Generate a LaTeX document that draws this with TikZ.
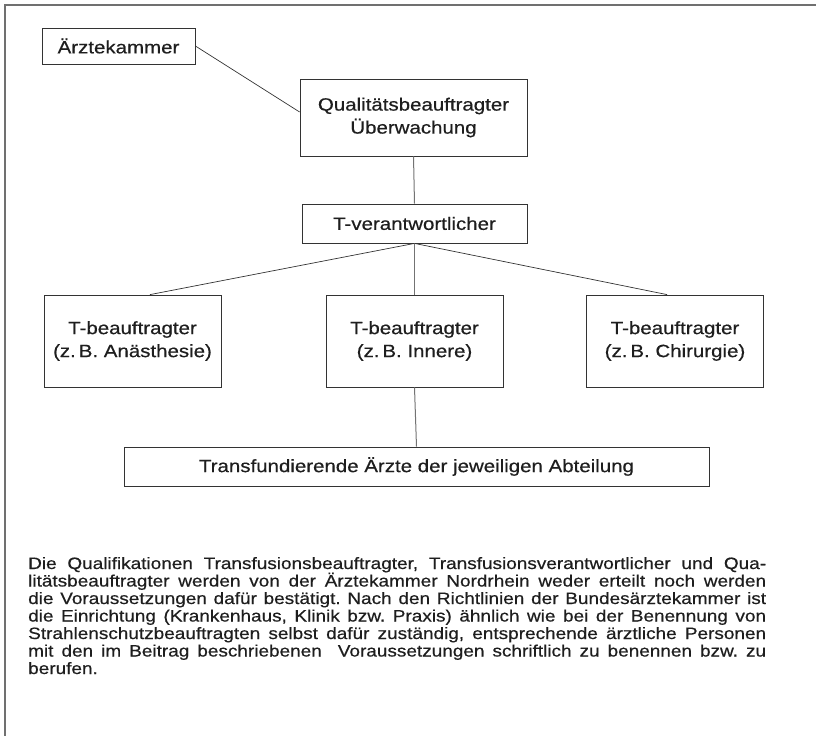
\documentclass[tikz,border=0pt]{standalone}
\usepackage{fontspec}
\setmainfont{Liberation Sans}
\newfontfamily\chartfont{Liberation Sans}[FakeStretch=1.15, FakeBold=0.5]
\usetikzlibrary{positioning}

\newcommand{\boxfont}{\chartfont\fontsize{17.8}{23}\selectfont}
\newcommand{\notefont}{\chartfont\fontsize{16.5}{17.5}\selectfont\frenchspacing}
\definecolor{inkgray}{HTML}{1E1E1E}
\definecolor{framegray}{HTML}{707070}

\tikzset{
  orgbox/.style={draw=black!80, line width=0.8pt, align=center, inner sep=0pt,
    text=inkgray, font=\boxfont},
  link/.style={draw=black!80, line width=0.7pt},
  stem/.style={draw=black!55, line width=1pt}
}

\begin{document}
\begin{tikzpicture}[x=1pt, y=-1pt]
  \useasboundingbox (0,0) rectangle (816,736);
  % frame, open at right and bottom
  \coordinate (ftop) at (816,5);
  \coordinate (fcorner) at (5,5);
  \coordinate (fbottom) at (5,736);
  \draw [framegray, line width=1.4pt] (ftop) -- (fcorner) -- (fbottom);

  % boxes
  \node [orgbox, minimum width=153pt, minimum height=36pt] (kammer) at (118.5,46) {Ärztekammer};
  \node [orgbox, minimum width=227pt, minimum height=77pt] (quali) at (413.5,117.5)
    {Qualitätsbeauftragter\\Überwachung};
  \node [orgbox, minimum width=225pt, minimum height=39pt] (tverant) at (414.5,223.5) {T-verantwortlicher};
  \node [orgbox, minimum width=177pt, minimum height=92pt] (tbanae) at (132.5,341)
    {T-beauftragter\\(z.\,B. Anästhesie)};
  \node [orgbox, minimum width=177pt, minimum height=92pt] (tbinn) at (414.5,341)
    {T-beauftragter\\(z.\,B. Innere)};
  \node [orgbox, minimum width=177pt, minimum height=92pt] (tbchir) at (675,341)
    {T-beauftragter\\(z.\,B. Chirurgie)};
  \node [orgbox, minimum width=585pt, minimum height=39pt] (aerzte) at (416.5,466.5)
    {Transfundierende Ärzte der jeweiligen Abteilung};

  % connectors
  \draw [link] (kammer.east) -- ([yshift=5.5pt]quali.west);
  \draw [stem] (quali.south) -- (tverant.north);
  \draw [link] (tverant.south) -- ([xshift=17.5pt]tbanae.north);
  \draw [stem] (tverant.south) -- (tbinn.north);
  \draw [link] (tverant.south) -- ([xshift=-8pt]tbchir.north);
  \draw [stem] (tbinn.south) -- (aerzte.north);

  % note below the chart
  \node [anchor=base west, text width=738pt, align=justify, inner sep=0pt,
    text=inkgray, font=\notefont] (note) at (28,569)
    {Die Qualifikationen Transfusionsbeauftragter, Transfusionsverantwortlicher und Qua-\linebreak
     litätsbeauftragter werden von der Ärztekammer Nordrhein weder erteilt noch werden\linebreak
     die Voraussetzungen dafür bestätigt. Nach den Richtlinien der Bundesärztekammer ist\linebreak
     die Einrichtung (Krankenhaus, Klinik bzw. Praxis) ähnlich wie bei der Benennung von\linebreak
     Strahlenschutzbeauftragten selbst dafür zuständig, entsprechende ärztliche Personen\linebreak
     mit den im Beitrag beschriebenen\ \ Voraussetzungen schriftlich zu benennen bzw. zu\linebreak
     berufen.};
\end{tikzpicture}
\end{document}
